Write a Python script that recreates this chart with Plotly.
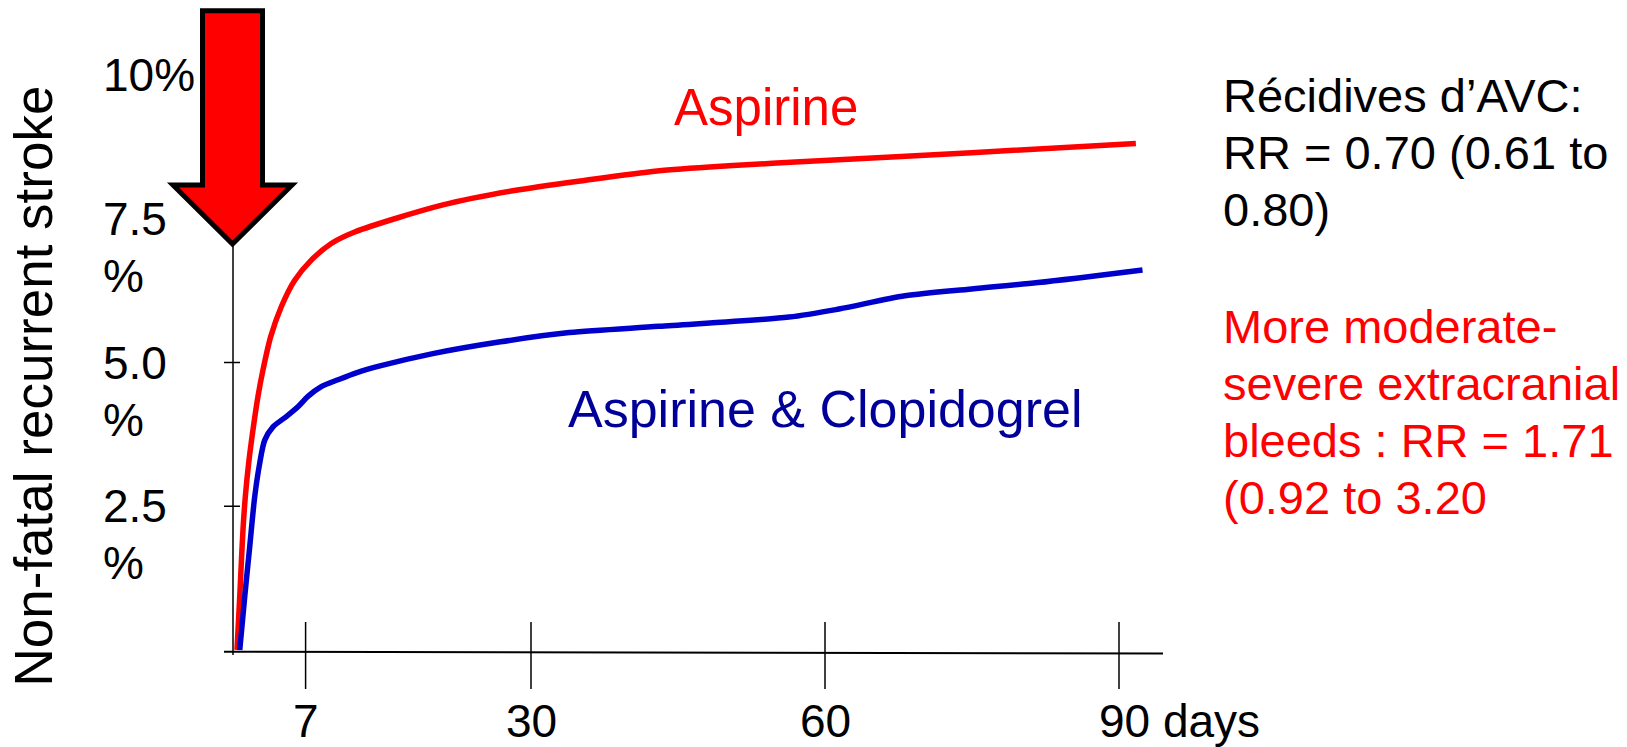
import plotly.graph_objects as go

# Cumulative non-fatal recurrent stroke (%) by day since randomisation
days_aspirin = [0, 0.28, 0.44, 0.61, 0.85, 1.19, 1.63, 2.14, 2.65, 3.44, 4.52,
                5.89, 7.58, 9.62, 12.01, 21.01, 28.3, 35.58, 42.87, 50.16, 57.45,
                74.97, 91.72]
pct_aspirin = [0, 0.93, 1.51, 2.09, 2.67, 3.25, 3.83, 4.41, 4.87, 5.45, 5.97,
               6.43, 6.78, 7.07, 7.27, 7.74, 7.99, 8.17, 8.33, 8.42, 8.49,
               8.65, 8.81]

days_dual = [0.28, 0.79, 1.30, 1.81, 2.32, 2.83, 3.67, 5.03, 6.22, 7.24, 8.60,
             10.31, 12.17, 14.59, 19.86, 26.89, 33.91, 43.05, 56.33, 61.43,
             68.16, 74.97, 81.73, 92.4]
pct_dual = [0, 0.93, 1.80, 2.67, 3.25, 3.65, 3.88, 4.06, 4.23, 4.41, 4.58,
            4.70, 4.82, 4.94, 5.15, 5.36, 5.52, 5.63, 5.79, 5.93,
            6.16, 6.28, 6.39, 6.61]

x_tick_vals = [7, 30, 60, 90]
x_tick_text = ["7", "30", "60", "90 days"]
y_tick_vals = [2.5, 5.0, 7.5, 10.0]
y_tick_text = ["2.5<br>%", "5.0<br>%", "7.5<br>%", "10%"]
y_title = "Non-fatal recurrent stroke"

series_names = ["Aspirine", "Aspirine & Clopidogrel"]
summary_lines = ["Récidives d’AVC:", "RR = 0.70 (0.61 to", "0.80)"]
bleed_lines = ["More moderate-", "severe extracranial", "bleeds : RR = 1.71",
               "(0.92 to 3.20"]

FONT = "Arial, 'Liberation Sans', sans-serif"
RED = "#FF0000"
BLUE_LINE = "#0000CC"
BLUE_TEXT = "#000099"

W, H = 1627, 747
L, R, T, B = 233, 1163, 60, 655          # plot area in pixels
X0_PX, PX_PER_DAY = 237, 9.8             # day 0 position and scale
Y0_PX, PX_PER_PCT = 650.0, 57.5          # 0 % position and scale
AXIS_Y_PX = 651.7                        # drawn baseline

x_range = [(L - X0_PX) / PX_PER_DAY, (R - X0_PX) / PX_PER_DAY]
y_range = [(Y0_PX - B) / PX_PER_PCT, (Y0_PX - T) / PX_PER_PCT]


def px_x(px):
    return (px - L) / (R - L)


def px_y(py):
    return (B - py) / (B - T)


fig = go.Figure()
fig.add_trace(go.Scatter(
    x=days_aspirin, y=pct_aspirin, mode="lines", name=series_names[0],
    line=dict(color=RED, width=5.5, shape="spline", smoothing=0.8),
    cliponaxis=False, showlegend=False, hoverinfo="skip"))
fig.add_trace(go.Scatter(
    x=days_dual, y=pct_dual, mode="lines", name=series_names[1],
    line=dict(color=BLUE_LINE, width=5.5, shape="spline", smoothing=0.8),
    cliponaxis=False, showlegend=False, hoverinfo="skip"))

shapes = []
# hand-drawn style axes
shapes.append(dict(type="line", xref="paper", yref="paper",
                   x0=px_x(224), x1=px_x(1163), y0=px_y(AXIS_Y_PX), y1=px_y(653.5),
                   line=dict(color="black", width=2)))
shapes.append(dict(type="line", xref="paper", yref="paper",
                   x0=0, x1=0, y0=px_y(655), y1=px_y(246),
                   line=dict(color="black", width=1.5)))
for v in y_tick_vals:
    if v < 7:
        shapes.append(dict(type="line", xref="paper", yref="y",
                           x0=px_x(224), x1=px_x(240), y0=v, y1=v,
                           line=dict(color="black", width=1.5)))
for v in x_tick_vals:
    shapes.append(dict(type="line", xref="x", yref="paper",
                       x0=v, x1=v, y0=px_y(622), y1=px_y(689),
                       line=dict(color="black", width=1.5)))

# big red arrow pointing at the top of the y axis
arrow_pts = [(202.5, 10.8), (262.5, 10.8), (262.5, 185), (292, 185),
             (232.5, 244), (173, 185), (202.5, 185)]
path = "M " + " L ".join(f"{px_x(px):.5f},{px_y(py):.5f}" for px, py in arrow_pts) + " Z"
shapes.append(dict(type="path", xref="paper", yref="paper", path=path,
                   fillcolor=RED, line=dict(color="black", width=5), layer="above"))

ann = []
# y tick labels, left aligned, one annotation per line
for v, t in zip(y_tick_vals, y_tick_text):
    for i, part in enumerate(t.split("<br>")):
        ann.append(dict(text=part, xref="paper", yref="y", x=px_x(101), y=v,
                        xanchor="left", yanchor="middle", yshift=-57 * i,
                        showarrow=False, font=dict(size=46, color="black", family=FONT)))
# x tick labels
for v, t in zip(x_tick_vals, x_tick_text):
    if t.endswith("days"):
        ann.append(dict(text=t, xref="x", yref="paper", x=v, y=px_y(721),
                        xanchor="left", yanchor="middle", xshift=-22,
                        showarrow=False, font=dict(size=46, color="black", family=FONT)))
    else:
        ann.append(dict(text=t, xref="x", yref="paper", x=v, y=px_y(721),
                        xanchor="center", yanchor="middle",
                        showarrow=False, font=dict(size=46, color="black", family=FONT)))
# axis title
ann.append(dict(text=y_title, xref="paper", yref="paper", x=px_x(33), y=px_y(386.5),
                textangle=-90, xanchor="center", yanchor="middle", showarrow=False,
                font=dict(size=53, color="black", family=FONT)))
# curve labels
ann.append(dict(text=series_names[0], xref="x", yref="y", x=54.0, y=9.43,
                showarrow=False, font=dict(size=51, color=RED, family=FONT)))
ann.append(dict(text=series_names[1], xref="x", yref="y", x=60.0, y=4.2,
                showarrow=False, font=dict(size=52, color=BLUE_TEXT, family=FONT)))
# side notes
for i, line in enumerate(summary_lines):
    ann.append(dict(text=line, xref="paper", yref="paper", x=px_x(1221),
                    y=px_y(95.5 + 57.2 * i), xanchor="left", yanchor="middle",
                    showarrow=False, font=dict(size=47, color="black", family=FONT)))
for i, line in enumerate(bleed_lines):
    ann.append(dict(text=line, xref="paper", yref="paper", x=px_x(1221),
                    y=px_y(326 + 57.3 * i), xanchor="left", yanchor="middle",
                    showarrow=False, font=dict(size=47, color=RED, family=FONT)))

fig.update_layout(
    width=W, height=H, autosize=False,
    margin=dict(l=L, r=W - R, t=T, b=H - B, pad=0),
    paper_bgcolor="white", plot_bgcolor="white",
    xaxis=dict(range=x_range, visible=False, fixedrange=True),
    yaxis=dict(range=y_range, visible=False, fixedrange=True),
    shapes=shapes, annotations=ann, showlegend=False,
)

fig.write_html("out.html", config={"displayModeBar": False})
